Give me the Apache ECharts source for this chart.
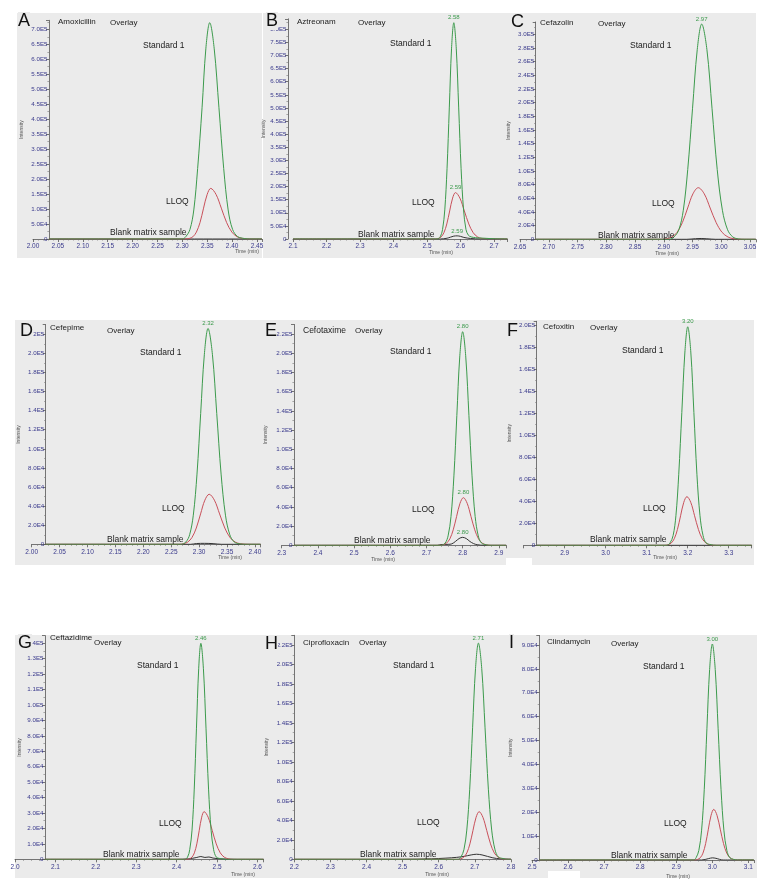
<!DOCTYPE html>
<html><head><meta charset="utf-8">
<script src="https://cdn.jsdelivr.net/npm/echarts@6/dist/echarts.min.js"></script>
<style>html,body{margin:0;padding:0;background:#fff}#c{width:768px;height:888px}</style>
</head><body><div id="c"></div>
<script>
// ---------------- data ----------------
const compounds = ['Amoxicillin','Aztreonam','Cefazolin','Cefepime','Cefotaxime','Cefoxitin','Ceftazidime','Ciprofloxacin','Clindamycin'];
const panelLetters = ['A','B','C','D','E','F','G','H','I'];
const traceNames = ['Standard 1','LLOQ','Blank matrix sample'];

// axis ranges / tick settings
const xMins = [2.00, 2.1, 2.65, 2.00, 2.3, 2.8, 2.0, 2.2, 2.5];
const xMaxs = [2.46, 2.74, 3.06, 2.41, 2.92, 3.356, 2.615, 2.8, 3.115];
const xIntervals = [0.05, 0.1, 0.05, 0.05, 0.1, 0.1, 0.1, 0.1, 0.1];
const xDecimals = [2, 1, 2, 2, 1, 1, 1, 1, 1];
const yMaxs = [7.3e5, 8.4e5, 3.18e5, 2.3e5, 2.3e5, 2.04e5, 1.45e5, 2.3e5, 9.4e4];
const yIntervals = [5e4, 5e4, 2e4, 2e4, 2e4, 2e4, 1e4, 2e4, 1e4];

// traces: [time (min), intensity]
const amoxStd = [[2.032,0],[2.30,0],[2.307,8e3],[2.3153,3.2e4],[2.323,9.7e4],[2.3307,2.35e5],[2.3396,4.38e5],[2.3473,6.37e5],[2.355,7.22e5],[2.3639,6.37e5],[2.3735,4.38e5],[2.3831,2.35e5],[2.392,9.7e4],[2.4009,3.2e4],[2.4111,8e3],[2.4252,1.5e3],[2.435,0],[2.46,0]];
const amoxLLOQ = [[2.032,0],[2.305,0],[2.3139,1.9e3],[2.3211,7.4e3],[2.3282,2.3e4],[2.3355,5.5e4],[2.3426,1.03e5],[2.3499,1.49e5],[2.357,1.69e5],[2.3676,1.49e5],[2.3783,1.03e5],[2.3889,5.5e4],[2.3995,2.3e4],[2.4101,7.4e3],[2.4208,1.9e3],[2.435,0],[2.46,0]];
const amoxBlank = [[2.032,0],[2.46,0]];

const aztStd = [[2.1,0],[2.53,0],[2.5397,9e3],[2.5464,3.6e4],[2.5531,1.11e5],[2.5598,2.68e5],[2.5666,5.0e5],[2.5733,7.28e5],[2.58,8.25e5],[2.5873,7.28e5],[2.5946,5.0e5],[2.6018,2.68e5],[2.6091,1.11e5],[2.6164,3.6e4],[2.6237,1.4e4],[2.632,8e3],[2.645,5e3],[2.67,3e3],[2.70,1e3],[2.74,0]];
const aztLLOQ = [[2.1,0],[2.525,0],[2.5332,2e3],[2.5419,7.8e3],[2.5505,2.4e4],[2.5591,5.75e4],[2.5677,1.07e5],[2.5764,1.56e5],[2.585,1.77e5],[2.5982,1.56e5],[2.6115,1.07e5],[2.6247,5.75e4],[2.6379,2.4e4],[2.6511,7.8e3],[2.6644,2e3],[2.69,1e3],[2.74,0]];
const aztBlank = [[2.1,0],[2.54,0],[2.56,3e3],[2.57,7e3],[2.58,1.1e4],[2.59,1.2e4],[2.60,1.0e4],[2.61,6e3],[2.63,2e3],[2.66,0],[2.74,0]];

const cefazStd = [[2.677,0],[2.91,0],[2.918,3.5e3],[2.9263,1.4e4],[2.934,4.25e4],[2.9417,1.02e5],[2.95,1.91e5],[2.9583,2.78e5],[2.966,3.15e5],[2.975,2.78e5],[2.984,1.91e5],[2.993,1.02e5],[3.002,4.25e4],[3.011,1.4e4],[3.020,3.5e3],[3.03,500],[3.04,0],[3.06,0]];
const cefazLLOQ = [[2.677,0],[2.895,0],[2.9048,830],[2.914,3.3e3],[2.9232,1.02e4],[2.9324,2.45e4],[2.9416,4.58e4],[2.9508,6.66e4],[2.96,7.55e4],[2.9704,6.66e4],[2.9807,4.58e4],[2.9911,2.45e4],[3.0014,1.02e4],[3.0118,3.3e3],[3.0221,830],[3.04,0],[3.06,0]];
const cefazBlank = [[2.677,0],[2.94,0],[2.955,900],[2.965,1200],[2.975,800],[2.99,0],[3.06,0]];

const cefepStd = [[2.025,0],[2.268,0],[2.2764,2.5e3],[2.283,1.0e4],[2.2896,3.05e4],[2.2962,7.35e4],[2.3028,1.37e5],[2.3094,1.99e5],[2.316,2.26e5],[2.3238,1.99e5],[2.3316,1.37e5],[2.3394,7.35e4],[2.3472,3.05e4],[2.355,1.0e4],[2.3628,2.5e3],[2.372,500],[2.385,0],[2.41,0]];
const cefepLLOQ = [[2.025,0],[2.265,0],[2.2718,580],[2.2795,2.3e3],[2.2872,7.1e3],[2.2949,1.7e4],[2.3026,3.18e4],[2.3103,4.62e4],[2.318,5.24e4],[2.3274,4.62e4],[2.3367,3.18e4],[2.3461,1.7e4],[2.3554,7.1e3],[2.3648,2.3e3],[2.3741,580],[2.39,0],[2.41,0]];
const cefepBlank = [[2.025,0],[2.285,0],[2.295,800],[2.31,1000],[2.325,700],[2.34,0],[2.41,0]];

const cefotStd = [[2.334,0],[2.74,0],[2.7517,2.4e3],[2.7597,9.8e3],[2.7678,3.0e4],[2.7758,7.23e4],[2.7839,1.35e5],[2.7919,1.96e5],[2.80,2.224e5],[2.8086,1.96e5],[2.8173,1.35e5],[2.8259,7.23e4],[2.8345,3.0e4],[2.8431,9.8e3],[2.8518,2.4e3],[2.865,500],[2.875,0],[2.92,0]];
const cefotLLOQ = [[2.334,0],[2.738,0],[2.7459,550],[2.7552,2.2e3],[2.7646,6.7e3],[2.7739,1.61e4],[2.7833,3.01e4],[2.7926,4.37e4],[2.802,4.96e4],[2.8125,4.37e4],[2.8229,3.01e4],[2.8334,1.61e4],[2.8438,6.7e3],[2.8543,2.2e3],[2.8647,550],[2.88,0],[2.92,0]];
const cefotBlank = [[2.334,0],[2.73,0],[2.74,800],[2.76,1000],[2.77,1500],[2.78,4000],[2.79,7000],[2.80,8.3e3],[2.81,7000],[2.82,4000],[2.83,1800],[2.84,600],[2.86,0],[2.92,0]];

const cefoxStd = [[2.832,0],[3.148,0],[3.1569,2.2e3],[3.1643,8.8e3],[3.1712,2.69e4],[3.1781,6.47e4],[3.1856,1.21e5],[3.1931,1.76e5],[3.20,1.99e5],[3.2075,1.76e5],[3.215,1.21e5],[3.2224,6.47e4],[3.2299,2.69e4],[3.2374,8.8e3],[3.2449,2.2e3],[3.257,500],[3.27,0],[3.356,0]];
const cefoxLLOQ = [[2.832,0],[3.144,0],[3.1518,490],[3.1595,1.95e3],[3.1672,6.0e3],[3.1749,1.44e4],[3.1826,2.69e4],[3.1903,3.91e4],[3.198,4.43e4],[3.2074,3.91e4],[3.2167,2.69e4],[3.2261,1.44e4],[3.2354,6.0e3],[3.2448,1.95e3],[3.2541,490],[3.27,0],[3.356,0]];
const cefoxBlank = [[2.832,0],[3.356,0]];

const ceftazStd = [[2.074,0],[2.42,0],[2.4272,1.5e3],[2.4324,6.2e3],[2.4381,1.89e4],[2.4436,4.55e4],[2.4491,8.5e4],[2.4546,1.235e5],[2.46,1.40e5],[2.4663,1.235e5],[2.4727,8.5e4],[2.479,4.55e4],[2.4853,1.89e4],[2.4916,6.2e3],[2.498,1.5e3],[2.507,500],[2.52,0],[2.615,0]];
const ceftazLLOQ = [[2.074,0],[2.426,0],[2.432,340],[2.438,1.36e3],[2.444,4.2e3],[2.450,1.0e4],[2.456,1.88e4],[2.462,2.73e4],[2.468,3.09e4],[2.478,2.73e4],[2.488,1.88e4],[2.498,1.0e4],[2.508,4.2e3],[2.518,1.36e3],[2.528,340],[2.54,0],[2.615,0]];
const ceftazBlank = [[2.074,0],[2.40,0],[2.43,300],[2.45,1200],[2.46,1800],[2.47,1200],[2.48,1500],[2.49,800],[2.51,300],[2.55,0],[2.615,0]];

const ciproStd = [[2.2,0],[2.654,0],[2.6617,2.4e3],[2.6698,9.8e3],[2.6778,3.0e4],[2.6859,7.2e4],[2.6939,1.35e5],[2.702,1.96e5],[2.71,2.22e5],[2.7192,1.96e5],[2.7284,1.35e5],[2.7376,7.2e4],[2.7468,3.0e4],[2.756,9.8e3],[2.7652,2.4e3],[2.778,800],[2.79,0],[2.8,0]];
const ciproLLOQ = [[2.2,0],[2.655,0],[2.661,540],[2.6695,2.15e3],[2.678,6.6e3],[2.6865,1.59e4],[2.695,2.97e4],[2.7035,4.31e4],[2.712,4.89e4],[2.7225,4.31e4],[2.733,2.97e4],[2.7435,1.59e4],[2.754,6.6e3],[2.7645,2.15e3],[2.775,540],[2.79,0],[2.8,0]];
const ciproBlank = [[2.2,0],[2.50,0],[2.58,500],[2.62,1200],[2.65,2000],[2.67,3000],[2.69,4500],[2.705,5200],[2.72,4500],[2.735,3000],[2.75,1500],[2.77,500],[2.8,200]];

const clindaStd = [[2.52,0],[2.948,0],[2.9551,1.0e3],[2.9626,4.0e3],[2.9701,1.22e4],[2.9776,2.94e4],[2.985,5.49e4],[2.9925,7.97e4],[3.00,9.04e4],[3.0081,7.97e4],[3.0161,5.49e4],[3.0242,2.94e4],[3.0322,1.22e4],[3.0403,4.0e3],[3.0483,1.0e3],[3.058,300],[3.07,0],[3.115,0]];
const clindaLLOQ = [[2.52,0],[2.952,0],[2.959,230],[2.9665,930],[2.974,2.86e3],[2.9815,6.9e3],[2.989,1.29e4],[2.9965,1.87e4],[3.004,2.12e4],[3.013,1.87e4],[3.022,1.29e4],[3.031,6.9e3],[3.04,2.86e3],[3.049,930],[3.058,230],[3.07,0],[3.115,0]];
const clindaBlank = [[2.52,0],[2.97,0],[2.99,600],[3.00,900],[3.01,700],[3.03,0],[3.115,0]];

// retention-time labels at the apex of each trace (Standard 1, LLOQ, Blank)
const peakLabels = [
  [null, null, null], ['2.58', '2.59', '2.59'], ['2.97', null, null],
  ['2.32', null, null], ['2.80', '2.80', '2.80'], ['3.20', null, null],
  ['2.46', null, null], ['2.71', null, null], ['3.00', null, null]
];

// ---------------- layout (pixels / styles) ----------------
// [gridLeft, gridTop, gridWidth, gridHeight, yAxisOffset, intensityNameGap]
const gridLayout = [
  [33, 20.3, 229, 218.7, -16, 25], [293, 18.8, 214.4, 220.2, 5, 19], [520, 22.0, 235.75, 217.3, -15.7, 25],
  [31.7, 324.65, 228.8, 219.65, -14, 25], [281.7, 324.4, 224.4, 220.9, -12.3, 26], [523.7, 321.3, 228, 224, -13, 25],
  [15, 635.6, 248.5, 223.7, -30, 23], [294.3, 635.3, 216.6, 224, 0, 25], [532, 635.4, 221.8, 224.6, -7.3, 26]
];
// panel background boxes [x, y, w, h]
const panelBoxes = [
  [17, 13, 245, 245], [263, 13, 248, 245], [509, 13, 247, 245],
  [15, 320, 247, 245], [262, 320, 247, 245], [508, 320, 246, 245],
  [15, 635, 247, 243], [262, 635, 248, 243], [510, 635, 247, 243]
];
// text anchors: letter, compound, Overlay, Standard 1, LLOQ, Blank, Time(min)
const letterPos = [[18,21],[266,21],[511,22],[20,331],[265,331],[507,331],[18,643],[265,644],[509,643]];
const namePos = [[58,22],[297,22],[540,23],[50,328],[303,331],[543,327],[50,638],[303,643],[547,642]];
const overlayPos = [[110,23],[358,23],[598,24],[107,331],[355,331],[590,328],[94,643],[359,643],[611,644]];
const stdPos = [[143,46],[390,44],[630,46],[140,353],[390,352],[622,351],[137,666],[393,666],[643,667]];
const lloqPos = [[166,202],[412,203],[652,204],[162,509],[412,510],[643,509],[159,824],[417,823],[664,824]];
const blankPos = [[110,233],[358,235],[598,236],[107,540],[354,541],[590,540],[103,855],[360,855],[611,856]];
const timePos = [[247,252],[441,253],[667,254],[230,558],[383,560],[665,558],[243,875],[437,875],[678,877]];

const traces = [
  [amoxStd, amoxLLOQ, amoxBlank], [aztStd, aztLLOQ, aztBlank], [cefazStd, cefazLLOQ, cefazBlank],
  [cefepStd, cefepLLOQ, cefepBlank], [cefotStd, cefotLLOQ, cefotBlank], [cefoxStd, cefoxLLOQ, cefoxBlank],
  [ceftazStd, ceftazLLOQ, ceftazBlank], [ciproStd, ciproLLOQ, ciproBlank], [clindaStd, clindaLLOQ, clindaBlank]
];
const traceColors = ['#3c9a4c', '#c8505a', '#333333'];
const labelGreen = '#3c9a4c';
const bgGray = '#ebebeb';
const tickColor = '#3a3a8c';
const axisColor = '#555';

function sci(v) {
  if (v === 0) return '0';
  const e = Math.floor(Math.log10(v) + 1e-9);
  const m = v / Math.pow(10, e);
  return m.toFixed(1) + 'E' + e;
}

const grids = [], xAxes = [], yAxes = [], series = [], graphics = [];
for (let i = 0; i < 9; i++) {
  const L = gridLayout[i];
  grids.push({ left: L[0], top: L[1], width: L[2], height: L[3], containLabel: false });
  xAxes.push({
    gridIndex: i, type: 'value', min: xMins[i], max: xMaxs[i], interval: xIntervals[i],
    axisLine: { onZero: false, lineStyle: { color: axisColor, width: 0.8 } },
    axisTick: { length: 3, lineStyle: { color: axisColor, width: 0.8 } },
    minorTick: { show: true, splitNumber: 5, length: 1.6, lineStyle: { color: '#777', width: 0.6 } },
    splitLine: { show: false },
    axisLabel: { fontSize: 6.5, color: tickColor, margin: 4, fontFamily: 'Liberation Sans',
      showMaxLabel: i === 7, showMinLabel: i !== 5,
      formatter: (v) => v.toFixed(xDecimals[i]) }
  });
  yAxes.push({
    gridIndex: i, type: 'value', min: 0, max: yMaxs[i], interval: yIntervals[i], offset: L[4],
    axisLine: { show: true, onZero: false, lineStyle: { color: axisColor, width: 0.8 } },
    axisTick: { show: true, length: 3, lineStyle: { color: axisColor, width: 0.8 } },
    minorTick: { show: true, splitNumber: 2, length: 1.6, lineStyle: { color: '#777', width: 0.6 } },
    splitLine: { show: false },
    axisLabel: { fontSize: 6.2, color: tickColor, margin: 1.5, fontFamily: 'Liberation Sans', showMaxLabel: false, formatter: sci },
    name: 'Intensity', nameLocation: 'middle', nameGap: L[5], nameRotate: 90,
    nameTextStyle: { fontSize: 5, color: '#555', fontFamily: 'Liberation Sans' }
  });
  for (let j = 2; j >= 0; j--) {
    const d = traces[i][j];
    const s = {
      type: 'line', name: traceNames[j], xAxisIndex: i, yAxisIndex: i, data: d,
      showSymbol: false, smooth: 0.35, silent: true, z: 5 - j,
      lineStyle: { width: 1, color: traceColors[j] }, itemStyle: { color: traceColors[j] }
    };
    const lbl = peakLabels[i][j];
    if (lbl) {
      let apex = d[0];
      d.forEach(p => { if (p[1] > apex[1]) apex = p; });
      s.markPoint = {
        symbol: 'circle', symbolSize: 0, silent: true,
        data: [{ coord: apex, value: lbl }],
        label: { show: true, position: 'top', distance: 2, fontSize: 6, color: labelGreen,
          fontFamily: 'Liberation Sans', formatter: lbl }
      };
    }
    series.push(s);
  }
  const B = panelBoxes[i];
  graphics.push({ type: 'rect', z: -10, shape: { x: B[0], y: B[1], width: B[2], height: B[3] }, style: { fill: bgGray } });
  const txt = (pos, text, size, color, extra) => Object.assign({
    type: 'text', x: pos[0], y: pos[1], z: 50,
    style: Object.assign({ text: text, fontSize: size, fontFamily: 'Liberation Sans', fill: color,
      align: 'left', verticalAlign: 'middle' }, extra || {})
  });
  graphics.push(txt(letterPos[i], panelLetters[i], 18, '#111', { backgroundColor: bgGray }));
  graphics.push(txt(namePos[i], compounds[i], i === 4 ? 8.5 : 8, '#222'));
  graphics.push(txt(overlayPos[i], 'Overlay', 8, '#222'));
  graphics.push(txt(stdPos[i], traceNames[0], 8.5, '#1a1a1a'));
  graphics.push(txt(lloqPos[i], traceNames[1], 8.5, '#1a1a1a'));
  graphics.push(txt(blankPos[i], traceNames[2], 8.5, '#1a1a1a'));
  graphics.push(txt(timePos[i], 'Time (min)', 5, '#555', { align: 'center' }));
}
// white patches present in the reference figure
graphics.push({ type: 'rect', z: 60, shape: { x: 506, y: 558, width: 26, height: 16 }, style: { fill: '#fff' } });
graphics.push({ type: 'rect', z: 60, shape: { x: 548, y: 871, width: 32, height: 10 }, style: { fill: '#fff' } });

const chart = echarts.init(document.getElementById('c'), null, { renderer: 'canvas' });
chart.setOption({
  animation: false,
  backgroundColor: '#fff',
  grid: grids, xAxis: xAxes, yAxis: yAxes, series: series, graphic: graphics
});
</script>
</body></html>
